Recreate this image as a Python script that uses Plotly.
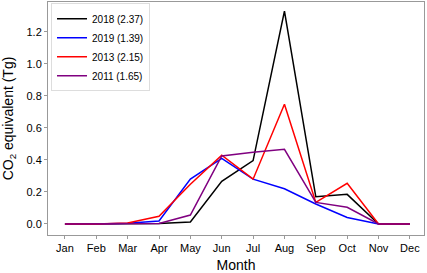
import plotly.graph_objects as go

months = ["Jan", "Feb", "Mar", "Apr", "May", "Jun", "Jul", "Aug", "Sep", "Oct", "Nov", "Dec"]
series_names = ["2018 (2.37)", "2019 (1.39)", "2013 (2.15)", "2011 (1.65)"]
colors = ["black", "blue", "red", "purple"]
v2018 = [0, 0, 0.002, 0.003, 0.012, 0.267, 0.396, 1.33, 0.17, 0.185, 0, 0]
v2019 = [0, 0, 0.005, 0.019, 0.28, 0.41, 0.28, 0.22, 0.125, 0.04, 0, 0]
v2013 = [0, 0, 0.006, 0.048, 0.248, 0.43, 0.28, 0.748, 0.135, 0.254, 0, 0]
v2011 = [0, 0, 0.003, 0.003, 0.056, 0.425, 0.448, 0.467, 0.135, 0.104, 0, 0]
values = [v2018, v2019, v2013, v2011]

x = list(range(1, 13))
fig = go.Figure()
for name, col, vals in zip(series_names, colors, values):
    fig.add_trace(go.Scatter(x=x, y=vals, mode="lines", name=name,
                             line=dict(color=col, width=1.5)))

fig.update_layout(
    width=427, height=273,
    margin=dict(l=48, r=3, t=2, b=38),
    plot_bgcolor="white", paper_bgcolor="white",
    font=dict(family="Liberation Sans, Arial, sans-serif", size=11, color="black"),
    showlegend=True,
    legend=dict(x=0.008, y=0.995, xanchor="left", yanchor="top",
                bgcolor="white", bordercolor="#dddddd", borderwidth=1,
                font=dict(size=10), tracegroupgap=0, itemwidth=30),
)
fig.update_xaxes(range=[0.46, 12.45], tickmode="array", tickvals=x, ticktext=months,
                 automargin=False,
                 showgrid=False, zeroline=False, showline=True, linecolor="#999999",
                 mirror=True, ticks="outside", ticklen=3, tickcolor="#999999",
                 title=dict(text="Month", font=dict(size=14)))
fig.update_yaxes(range=[-0.069, 1.3875], tickvals=[0, 0.2, 0.4, 0.6, 0.8, 1.0, 1.2],
                 tickformat=".1f", automargin=False,
                 showgrid=False, zeroline=False, showline=True, linecolor="#999999",
                 mirror=True, ticks="outside", ticklen=3, tickcolor="#999999",
                 title=dict(text="CO<sub>2</sub> equivalent (Tg)", font=dict(size=14)))
fig.write_html("out.html", config={"displayModeBar": False},
               post_script="document.body.style.margin='0';document.body.style.overflow='hidden';")
